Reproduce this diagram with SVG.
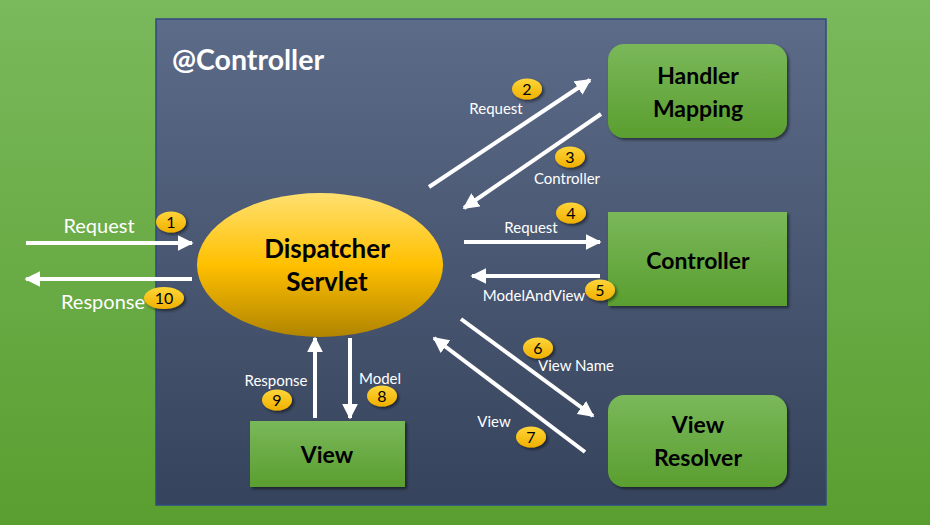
<svg xmlns="http://www.w3.org/2000/svg" width="930" height="525" viewBox="0 0 930 525">
<defs>
<linearGradient id="bg" x1="0" y1="0" x2="0" y2="1"><stop offset="0" stop-color="#7ab95c"/><stop offset="1" stop-color="#5a9e30"/></linearGradient>
<linearGradient id="panel" x1="0" y1="0" x2="0" y2="1"><stop offset="0" stop-color="#5c6b88"/><stop offset="1" stop-color="#36435c"/></linearGradient>
<linearGradient id="ell" x1="0" y1="0" x2="0" y2="1"><stop offset="0" stop-color="#ffe070"/><stop offset="0.5" stop-color="#ffc000"/><stop offset="1" stop-color="#b08400"/></linearGradient>
<linearGradient id="box" x1="0" y1="0" x2="0" y2="1"><stop offset="0" stop-color="#7ab85a"/><stop offset="1" stop-color="#5a9e2f"/></linearGradient>
<linearGradient id="badge" x1="0" y1="0" x2="0" y2="1"><stop offset="0" stop-color="#ffd53a"/><stop offset="1" stop-color="#f0b000"/></linearGradient>
<filter id="sh" x="-10%" y="-10%" width="130%" height="130%"><feDropShadow dx="2" dy="2" stdDeviation="1.5" flood-color="#000" flood-opacity="0.5"/></filter>
<marker id="ah" viewBox="0 0 10 10" refX="9" refY="5" markerWidth="4" markerHeight="4" markerUnits="strokeWidth" orient="auto"><path d="M0,0 L10,5 L0,10 z" fill="#fff"/></marker>
</defs>
<style>
.lbl{font-family:Lato,"Open Sans",sans-serif;fill:#fff;text-anchor:middle}
.node{font-family:Lato,"Open Sans",sans-serif;font-weight:bold;fill:#000;text-anchor:middle;font-size:23px}
.num{font-family:Lato,"Open Sans",sans-serif;fill:#000;text-anchor:middle;font-size:16px}
.arr{stroke:#fff;stroke-width:4;fill:none;marker-end:url(#ah)}
.b{fill:url(#badge);filter:url(#sh)}
.box{fill:url(#box);filter:url(#sh)}
</style>
<rect x="0" y="0" width="930" height="525" fill="url(#bg)"/>
<rect x="156" y="19" width="670" height="486" fill="url(#panel)" stroke="#2f4a80" stroke-width="1.5"/>
<text x="172" y="70" class="lbl" style="text-anchor:start;font-weight:bold;font-size:28.5px">@Controller</text>

<g id="dispatcher">
<ellipse cx="320" cy="265" rx="123" ry="72" fill="url(#ell)"/>
<text x="327" y="258" class="node" style="font-size:26px">Dispatcher</text>
<text x="327" y="291" class="node" style="font-size:26px">Servlet</text>
</g>
<g id="handler-mapping">
<rect x="608" y="44" width="179" height="94" rx="16" class="box"/>
<text x="698" y="84" class="node">Handler</text>
<text x="698" y="117" class="node">Mapping</text>
</g>
<g id="controller">
<rect x="608" y="212" width="179" height="94" class="box"/>
<text x="698" y="269" class="node">Controller</text>
</g>
<g id="view-resolver">
<rect x="608" y="395" width="179" height="92" rx="16" class="box"/>
<text x="698" y="433" class="node">View</text>
<text x="698" y="466" class="node">Resolver</text>
</g>
<g id="view">
<rect x="250" y="421" width="155" height="66" class="box"/>
<text x="327" y="463" class="node">View</text>
</g>

<g id="connectors">
<line x1="26" y1="243" x2="192" y2="243" class="arr"/>
<line x1="192" y1="279" x2="26" y2="279" class="arr"/>
<line x1="429" y1="187" x2="590" y2="80" class="arr"/>
<line x1="601" y1="114" x2="464" y2="208" class="arr"/>
<line x1="464" y1="242" x2="600" y2="242" class="arr"/>
<line x1="600" y1="276" x2="472" y2="276" class="arr"/>
<line x1="461" y1="319" x2="593" y2="416" class="arr"/>
<line x1="585" y1="452" x2="434" y2="338" class="arr"/>
<line x1="315" y1="418" x2="315" y2="338" class="arr"/>
<line x1="350" y1="338" x2="350" y2="418" class="arr"/>
</g>

<g id="labels">
<text x="99" y="233" class="lbl" style="font-size:20px">Request</text>
<text x="103" y="309" class="lbl" style="font-size:20px">Response</text>
<text x="496" y="114" class="lbl" style="font-size:15px">Request</text>
<text x="567" y="184" class="lbl" style="font-size:15px">Controller</text>
<text x="531" y="233" class="lbl" style="font-size:15px">Request</text>
<text x="534" y="301" class="lbl" style="font-size:15px">ModelAndView</text>
<text x="576" y="371" class="lbl" style="font-size:15px">View Name</text>
<text x="494" y="427" class="lbl" style="font-size:15px">View</text>
<text x="276" y="386" class="lbl" style="font-size:15px">Response</text>
<text x="380" y="384" class="lbl" style="font-size:15px">Model</text>
</g>

<g id="badges">
<ellipse cx="171" cy="222" rx="15" ry="10.5" class="b"/><text x="171" y="228" class="num">1</text>
<ellipse cx="527" cy="89" rx="15" ry="10.5" class="b"/><text x="527" y="95" class="num">2</text>
<ellipse cx="570" cy="157" rx="15" ry="10.5" class="b"/><text x="570" y="163" class="num">3</text>
<ellipse cx="571" cy="213" rx="15" ry="10.5" class="b"/><text x="571" y="219" class="num">4</text>
<ellipse cx="600" cy="290" rx="15" ry="10.5" class="b"/><text x="600" y="296" class="num">5</text>
<ellipse cx="538" cy="348" rx="15" ry="10.5" class="b"/><text x="538" y="354" class="num">6</text>
<ellipse cx="531" cy="437" rx="15" ry="10.5" class="b"/><text x="531" y="443" class="num">7</text>
<ellipse cx="382" cy="396" rx="15" ry="10.5" class="b"/><text x="382" y="402" class="num">8</text>
<ellipse cx="277" cy="400" rx="15" ry="10.5" class="b"/><text x="277" y="406" class="num">9</text>
<ellipse cx="164" cy="298" rx="20" ry="11" class="b"/><text x="164" y="304" class="num">10</text>
</g>
</svg>
